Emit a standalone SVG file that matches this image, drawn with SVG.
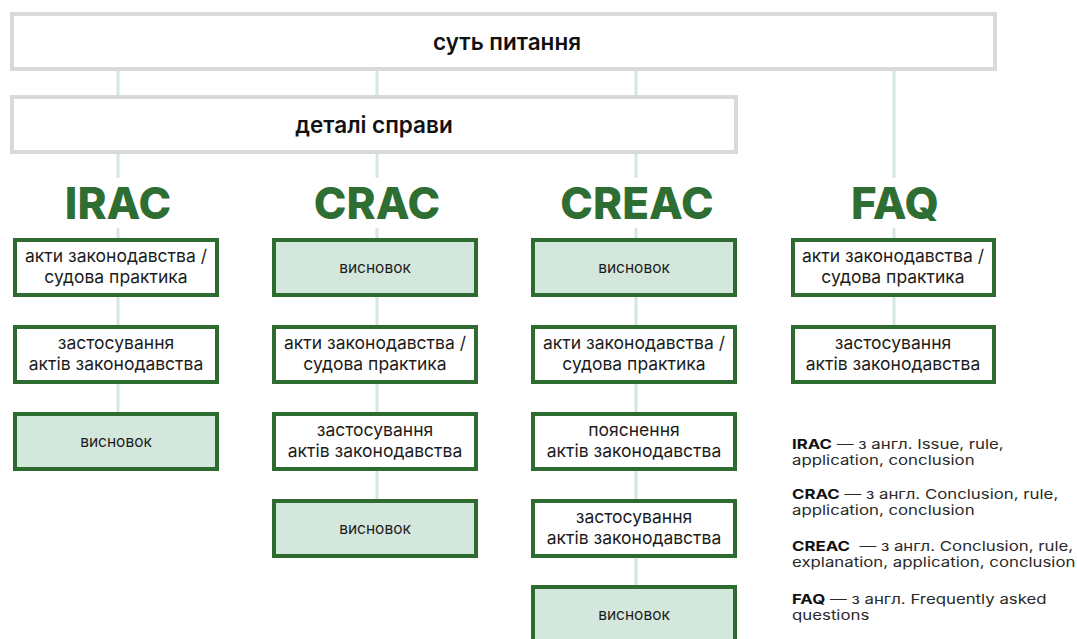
<svg xmlns="http://www.w3.org/2000/svg" width="1077" height="639" viewBox="0 0 1077 639">
<style>
.hdr{fill:#fff;stroke:#d9d9d9;stroke-width:4}
.box{fill:#fff;stroke:#2e6b30;stroke-width:4}
.fill{fill:#d3e7dc}
.t{font-family:Inter,"Noto Sans",sans-serif;font-size:17.5px;fill:#1c1c1c;text-anchor:middle}
.v{font-size:15.5px}
.hb{font-family:Inter,"Noto Sans",sans-serif;font-size:22.5px;font-weight:600;fill:#111;text-anchor:middle}
.ttl{font-family:Inter,"Noto Sans",sans-serif;font-size:44px;font-weight:800;fill:#2e6e32;text-anchor:middle}
.lg{font-family:Inter,"Noto Sans",sans-serif;font-size:13.5px;fill:#2a2a2a}
.lg tspan.b{font-weight:700;fill:#111}
.c{stroke:#d3e6df;stroke-width:3;fill:none}
</style>
<rect width="1077" height="639" fill="#fff"/>
<g id="connectors">
<line class="c" x1="118" y1="69" x2="118" y2="97"/>
<line class="c" x1="377" y1="69" x2="377" y2="97"/>
<line class="c" x1="636" y1="69" x2="636" y2="97"/>
<line class="c" x1="894" y1="69" x2="894" y2="178"/>
<line class="c" x1="118" y1="152" x2="118" y2="178"/>
<line class="c" x1="377" y1="152" x2="377" y2="178"/>
<line class="c" x1="636" y1="152" x2="636" y2="178"/>
<line class="c" x1="118" y1="228" x2="118" y2="413"/>
<line class="c" x1="377" y1="228" x2="377" y2="500"/>
<line class="c" x1="636" y1="228" x2="636" y2="587"/>
<line class="c" x1="894" y1="228" x2="894" y2="326"/>
</g>
<g id="issue"><rect class="hdr" x="12" y="14" width="983" height="55"/><text class="hb" x="507" y="50">суть питання</text></g>
<g id="details"><rect class="hdr" x="12" y="97" width="724" height="55"/><text class="hb" x="374" y="133">деталі справи</text></g>
<g id="title-irac"><text class="ttl" x="118" y="219">IRAC</text></g>
<g id="title-crac"><text class="ttl" x="377" y="219">CRAC</text></g>
<g id="title-creac"><text class="ttl" x="637" y="219">CREAC</text></g>
<g id="title-faq"><text class="ttl" x="895" y="219">FAQ</text></g>
<g id="irac-1"><rect class="box" x="15" y="240" width="202" height="55"/><text class="t" x="116" y="262">акти законодавства /</text><text class="t" x="116" y="283">судова практика</text></g>
<g id="irac-2"><rect class="box" x="15" y="327" width="202" height="55"/><text class="t" x="116" y="349">застосування</text><text class="t" x="116" y="370">актів законодавства</text></g>
<g id="irac-3"><rect class="box fill" x="15" y="414" width="202" height="55"/><text class="t v" x="116" y="447">висновок</text></g>
<g id="crac-1"><rect class="box fill" x="274" y="240" width="202" height="55"/><text class="t v" x="375" y="273">висновок</text></g>
<g id="crac-2"><rect class="box" x="274" y="327" width="202" height="55"/><text class="t" x="375" y="349">акти законодавства /</text><text class="t" x="375" y="370">судова практика</text></g>
<g id="crac-3"><rect class="box" x="274" y="414" width="202" height="55"/><text class="t" x="375" y="436">застосування</text><text class="t" x="375" y="457">актів законодавства</text></g>
<g id="crac-4"><rect class="box fill" x="274" y="501" width="202" height="55"/><text class="t v" x="375" y="534">висновок</text></g>
<g id="creac-1"><rect class="box fill" x="533" y="240" width="202" height="55"/><text class="t v" x="634" y="273">висновок</text></g>
<g id="creac-2"><rect class="box" x="533" y="327" width="202" height="55"/><text class="t" x="634" y="349">акти законодавства /</text><text class="t" x="634" y="370">судова практика</text></g>
<g id="creac-3"><rect class="box" x="533" y="414" width="202" height="55"/><text class="t" x="634" y="436">пояснення</text><text class="t" x="634" y="457">актів законодавства</text></g>
<g id="creac-4"><rect class="box" x="533" y="501" width="202" height="55"/><text class="t" x="634" y="523">застосування</text><text class="t" x="634" y="544">актів законодавства</text></g>
<g id="creac-5"><rect class="box fill" x="533" y="587" width="202" height="60"/><text class="t v" x="634" y="620">висновок</text></g>
<g id="faq-1"><rect class="box" x="793" y="240" width="201" height="55"/><text class="t" x="893" y="262">акти законодавства /</text><text class="t" x="893" y="283">судова практика</text></g>
<g id="faq-2"><rect class="box" x="793" y="327" width="201" height="55"/><text class="t" x="893" y="349">застосування</text><text class="t" x="893" y="370">актів законодавства</text></g>
<g id="legend" transform="translate(792,0) scale(1.245,1)">
<text class="lg" x="0" y="449"><tspan class="b">IRAC</tspan> — з англ. Issue, rule,</text>
<text class="lg" x="0" y="465.5">application, conclusion</text>
<text class="lg" x="0" y="499"><tspan class="b">CRAC</tspan> — з англ. Conclusion, rule,</text>
<text class="lg" x="0" y="515.5">application, conclusion</text>
<text class="lg" x="0" y="551"><tspan class="b">CREAC</tspan>&#160; — з англ. Conclusion, rule,</text>
<text class="lg" x="0" y="567.5">explanation, application, conclusion</text>
<text class="lg" x="0" y="604"><tspan class="b">FAQ</tspan> — з англ. Frequently asked</text>
<text class="lg" x="0" y="620.5">questions</text>
</g>
</svg>
